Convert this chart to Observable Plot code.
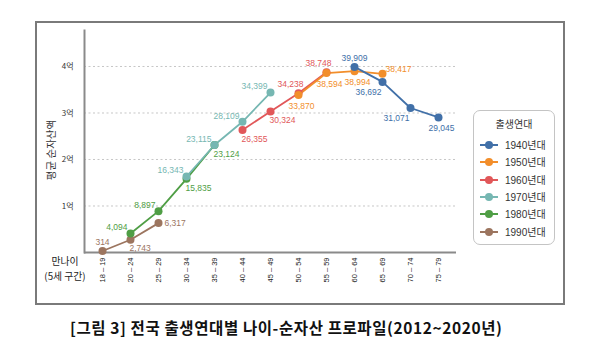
<!DOCTYPE html>
<html><head><meta charset="utf-8">
<script src="https://cdn.jsdelivr.net/npm/d3@7"></script>
<script src="https://cdn.jsdelivr.net/npm/@observablehq/plot@0.6"></script>
<style>
body{margin:0;background:#fff;font-family:"Noto Sans CJK KR","Liberation Sans",sans-serif;}
#wrap{position:relative;width:600px;height:341px;overflow:hidden;}
#frame{position:absolute;left:35px;top:21px;width:526px;height:280px;border:2px solid #7a7a7a;}
#chart{position:absolute;left:0;top:0;}
.ylab{position:absolute;left:50px;top:150px;transform:translate(-50%,-50%) rotate(-90deg);font-size:10.5px;color:#333;white-space:nowrap;}
.xlab{position:absolute;left:65px;transform:translateX(-50%);font-size:9.8px;line-height:12px;height:12px;color:#222;text-align:center;white-space:nowrap;}
#legend{position:absolute;left:473px;top:110px;width:80px;height:133px;border:1px solid #c4c4c4;border-radius:7px;}
#legend .t{position:absolute;left:0;width:100%;top:5px;text-align:center;font-size:10px;color:#333;}
#legend .it{position:absolute;left:5px;height:14px;font-size:10px;color:#333;white-space:nowrap;}
#legend .it svg{position:absolute;left:0;top:0;}
#legend .it span{position:absolute;left:26px;top:-1px;font-family:"Liberation Sans","Noto Sans CJK KR",sans-serif;}
#legend .it span b{font-weight:normal;font-family:"Noto Sans CJK KR",sans-serif;}
.cap{position:absolute;left:70px;top:316px;font-size:15.5px;font-weight:bold;color:#111;white-space:nowrap;letter-spacing:0.6px;}
</style></head>
<body><div id="wrap"><div id="frame"></div><div id="chart"></div>
<div class="ylab">평균 순자산액</div>
<div class="xlab" style="top:255px">만나이</div>
<div class="xlab" style="top:269.5px">(5세 구간)</div>
<div id="legend"><div class="t">출생연대</div></div>
<div class="cap">[그림 3] 전국 출생연대별 나이-순자산 프로파일(2012~2020년)</div>
</div>
<script>
const ageGroups = ["18 – 19","20 – 24","25 – 29","30 – 34","35 – 39","40 – 44","45 – 49","50 – 54","55 – 59","60 – 64","65 – 69","70 – 74","75 – 79"];
const cohorts = ["1940년대","1950년대","1960년대","1970년대","1980년대","1990년대"];
const colors = ["#4170a8","#f28e2b","#e15759","#76b7b2","#4f9e45","#9c755f"];
// net assets (10k KRW), aligned to ageGroups
const v1940 = [null,null,null,null,null,null,null,null,null,39909,36692,31071,29045];
const v1950 = [null,null,null,null,null,null,null,33870,38594,38994,38417,null,null];
const v1960 = [null,null,null,null,null,26355,30324,34238,38748,null,null,null,null];
const v1970 = [null,null,null,16343,23115,28109,34399,null,null,null,null,null,null];
const v1980 = [null,4094,8897,15835,23124,null,null,null,null,null,null,null,null];
const v1990 = [314,2743,6317,null,null,null,null,null,null,null,null,null,null];
const yTicks = [10000,20000,30000,40000];
// label placement per point (annotation side)
const p1940 = [null,null,null,null,null,null,null,null,null,"above","belowLeft","belowLeft","below"];
const p1950 = [null,null,null,null,null,null,null,"below","below","below","aboveRight",null,null];
const p1960 = [null,null,null,null,null,"belowRight","belowRight","aboveLeftC","aboveLeftC",null,null,null,null];
const p1970 = [null,null,null,"aboveLeft","aboveLeft","aboveLeft","aboveLeft",null,null,null,null,null,null];
const p1980 = [null,"aboveLeft","aboveLeft","belowRight","belowRight",null,null,null,null,null,null,null,null];
const p1990 = ["above","belowRight","right",null,null,null,null,null,null,null,null,null,null];

const series = [v1940,v1950,v1960,v1970,v1980,v1990];
const places = [p1940,p1950,p1960,p1970,p1980,p1990];
const rows = [];
// draw 1990s first so 1940s sits on top
for (let s = series.length - 1; s >= 0; s--) {
  series[s].forEach((v, i) => {
    if (v != null) rows.push({cohort: cohorts[s], age: ageGroups[i], value: v, place: places[s][i]});
  });
}
const fmt = d3.format(",");
const placeStyle = {
  above:      {textAnchor:"middle", dx:0,  dy:-9},
  below:      {textAnchor:"middle", dx:3,  dy:11},
  belowLeft:  {textAnchor:"end",    dx:-1, dy:10},
  belowRight: {textAnchor:"start",  dx:-1, dy:9},
  aboveLeft:  {textAnchor:"end",    dx:-3, dy:-6},
  aboveLeftC: {textAnchor:"middle", dx:-8, dy:-9},
  aboveRight: {textAnchor:"start",  dx:3,  dy:-5},
  right:      {textAnchor:"start",  dx:6,  dy:0}
};
const labelMarks = Object.entries(placeStyle).map(([k, st]) =>
  Plot.text(rows.filter(d => d.place === k), {
    x: "age", y: "value", text: d => fmt(d.value), fill: "cohort",
    fontSize: 8.5, fontFamily: "Liberation Sans, Arial, sans-serif", ...st
  })
);

const chart = Plot.plot({
  width: 600, height: 300,
  marginLeft: 84, marginRight: 144, marginTop: 30, marginBottom: 48,
  style: {fontFamily: "Noto Sans CJK KR, Liberation Sans, sans-serif", color: "#333", background: "transparent"},
  x: {type: "point", domain: ageGroups, padding: 0.5},
  y: {domain: [0, 47740]},
  color: {domain: cohorts, range: colors},
  marks: [
    Plot.gridY(yTicks, {stroke: "#b8b8b8", strokeOpacity: 1, strokeDasharray: "2,2.5", strokeWidth: 0.8}),
    Plot.axisY(yTicks, {tickFormat: d => d / 10000 + "억", tickSize: 0, tickPadding: 11, fontSize: 8, label: null, fill: "#333"}),
    Plot.axisX({tickRotate: -90, tickSize: 0, tickPadding: 5, fontSize: 7.5, label: null, fill: "#222", fontFamily: "Liberation Sans, Arial, sans-serif"}),
    Plot.ruleY([0], {stroke: "#8a8a8a", strokeWidth: 2}),
    Plot.frame({anchor: "left", stroke: "#8a8a8a", strokeWidth: 2}),
    Plot.line(rows, {x: "age", y: "value", z: "cohort", stroke: "cohort", strokeWidth: 1.8}),
    Plot.dot(rows, {x: "age", y: "value", fill: "cohort", r: 4}),
    ...labelMarks
  ]
});
document.getElementById("chart").appendChild(chart);

const leg = document.getElementById("legend");
cohorts.forEach((c, i) => {
  const it = document.createElement("div");
  it.className = "it";
  it.style.top = (27 + i * 17.3) + "px";
  it.innerHTML = `<svg width="22" height="14"><line x1="1" y1="7" x2="19" y2="7" stroke="${colors[i]}" stroke-width="2"/><circle cx="10" cy="7" r="4" fill="${colors[i]}"/></svg><span>${c.slice(0,4)}<b>${c.slice(4)}</b></span>`;
  leg.appendChild(it);
});
</script>
</body></html>
